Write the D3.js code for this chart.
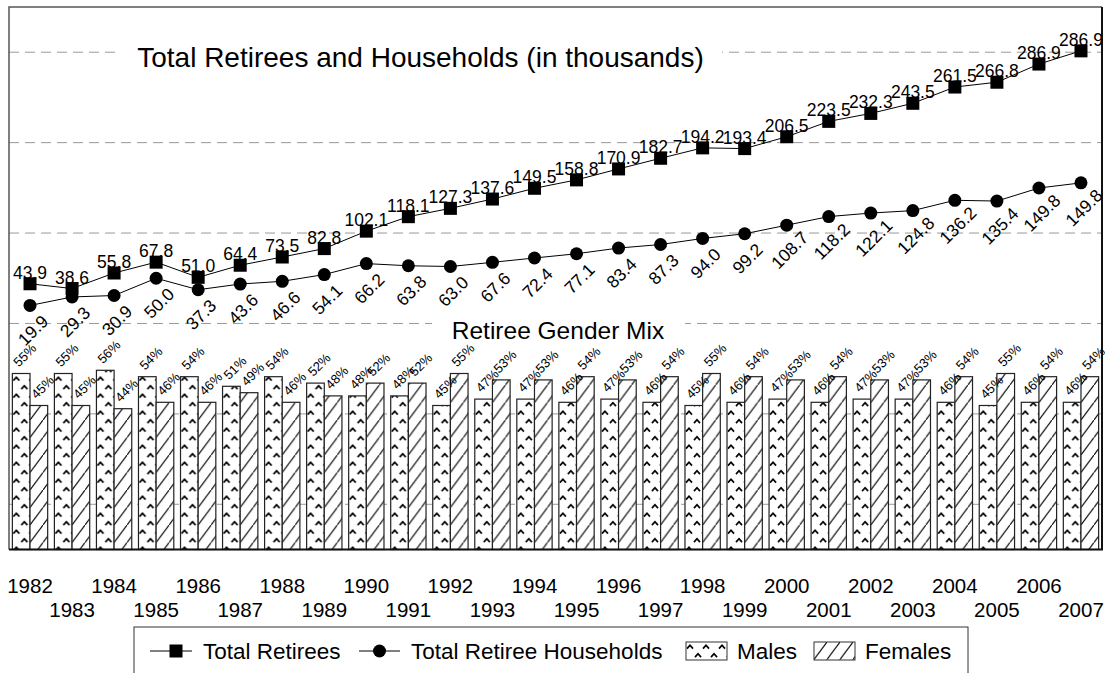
<!DOCTYPE html>
<html>
<head>
<meta charset="utf-8">
<script src="https://cdn.jsdelivr.net/npm/d3@7"></script>
<style>
  body { margin: 0; background: #fff; }
  text { font-family: "Liberation Sans", Arial, sans-serif; }
</style>
</head>
<body>
<div id="chart"></div>
<script>
// categories
const years = ["1982","1983","1984","1985","1986","1987","1988","1989","1990","1991","1992","1993","1994",
               "1995","1996","1997","1998","1999","2000","2001","2002","2003","2004","2005","2006","2007"];

// total retirees (thousands) - plotted value and printed label (2007 label repeats 2006 in the original)
const retirees = [43.9, 38.6, 55.8, 67.8, 51.0, 64.4, 73.5, 82.8, 102.1, 118.1, 127.3, 137.6, 149.5,
                  158.8, 170.9, 182.7, 194.2, 193.4, 206.5, 223.5, 232.3, 243.5, 261.5, 266.8, 286.9, 301.5];
const retireeLabels = ["43.9","38.6","55.8","67.8","51.0","64.4","73.5","82.8","102.1","118.1","127.3","137.6","149.5",
                       "158.8","170.9","182.7","194.2","193.4","206.5","223.5","232.3","243.5","261.5","266.8","286.9","286.9"];

// total retiree households (thousands)
const households = [19.9, 29.3, 30.9, 50.0, 37.3, 43.6, 46.6, 54.1, 66.2, 63.8, 63.0, 67.6, 72.4,
                    77.1, 83.4, 87.3, 94.0, 99.2, 108.7, 118.2, 122.1, 124.8, 136.2, 135.4, 149.8, 155.5];
const householdLabels = ["19.9","29.3","30.9","50.0","37.3","43.6","46.6","54.1","66.2","63.8","63.0","67.6","72.4",
                         "77.1","83.4","87.3","94.0","99.2","108.7","118.2","122.1","124.8","136.2","135.4","149.8","149.8"];

// gender mix (%)
const malePct   = [55, 55, 56, 54, 54, 51, 54, 52, 48, 48, 45, 47, 47, 46, 47, 46, 45, 46, 47, 46, 47, 47, 46, 45, 46, 46];
const femalePct = [45, 45, 44, 46, 46, 49, 46, 48, 52, 52, 55, 53, 53, 54, 53, 54, 55, 54, 53, 54, 53, 53, 54, 55, 54, 54];

const gridValues = [-200, -100, 0, 100, 200, 300];

const width = 1107, height = 673;
const plotLeft = 9, plotRight = 1102, plotTop = 7, plotBottom = 549.5;

const svg = d3.select("#chart").append("svg")
    .attr("width", width)
    .attr("height", height)
    .style("display", "block");

// patterns
const defs = svg.append("defs");
const pm = defs.append("pattern")
    .attr("id", "males")
    .attr("patternUnits", "userSpaceOnUse")
    .attr("width", 16).attr("height", 17);
pm.append("rect").attr("width", 16).attr("height", 17).attr("fill", "#fff");
[[4, 4], [12, 12.5]].forEach(([px, py]) => {
    pm.append("path")
        .attr("d", `M${px - 3},${py + 2.6} L${px},${py - 0.8} L${px + 3},${py + 2.6}`)
        .attr("fill", "none").attr("stroke", "#000").attr("stroke-width", 1.7);
});
const pf = defs.append("pattern")
    .attr("id", "females")
    .attr("patternUnits", "userSpaceOnUse")
    .attr("width", 13).attr("height", 17.5);
pf.append("rect").attr("width", 13).attr("height", 17.5).attr("fill", "#fff");
pf.append("path")
    .attr("d", "M-1,18.85 L14,-1.35")
    .attr("stroke", "#000").attr("stroke-width", 1.1);

// scales
const x = d3.scaleBand().domain(years).range([plotLeft, plotRight]);
const yLine = d3.scaleLinear().domain([-250, 350]).range([plotBottom, plotTop]);
const yBar = d3.scaleLinear().domain([0, 100]).range([plotBottom, 229.5]);
const cx = i => x(years[i]) + x.bandwidth() / 2;
const barW = x.bandwidth() * 0.42;
const barPad = x.bandwidth() * 0.08;

// gridlines
svg.append("g")
  .selectAll("line")
  .data(gridValues)
  .join("line")
    .attr("x1", plotLeft).attr("x2", plotRight)
    .attr("y1", d => yLine(d)).attr("y2", d => yLine(d))
    .attr("stroke", "#999")
    .attr("stroke-width", 1)
    .attr("stroke-dasharray", "10,6");

// panel titles with white boxes
svg.append("rect").attr("x", 119).attr("y", 38).attr("width", 603).attr("height", 38).attr("fill", "#fff");
svg.append("text")
    .attr("x", 420.5).attr("y", 67)
    .attr("text-anchor", "middle")
    .attr("font-size", 28)
    .text("Total Retirees and Households (in thousands)");

svg.append("rect").attr("x", 432).attr("y", 316).attr("width", 253).attr("height", 26).attr("fill", "#fff");
svg.append("text")
    .attr("x", 558).attr("y", 338.5)
    .attr("text-anchor", "middle")
    .attr("font-size", 24.5)
    .text("Retiree Gender Mix");

// bars
const bars = svg.append("g");
years.forEach((yr, i) => {
    const xm = x(yr) + barPad;
    const xf = xm + barW;
    bars.append("g").attr("transform", `translate(${xm},0)`)
      .append("rect")
        .attr("x", 0).attr("y", yBar(malePct[i]))
        .attr("width", barW).attr("height", plotBottom - yBar(malePct[i]))
        .attr("fill", "url(#males)")
        .attr("stroke", "#222").attr("stroke-width", 1.2);
    bars.append("g").attr("transform", `translate(${xf},0)`)
      .append("rect")
        .attr("x", 0).attr("y", yBar(femalePct[i]))
        .attr("width", barW).attr("height", plotBottom - yBar(femalePct[i]))
        .attr("fill", "url(#females)")
        .attr("stroke", "#222").attr("stroke-width", 1.2);
});

// percent labels
const pctLabels = svg.append("g").attr("font-size", 13);
years.forEach((yr, i) => {
    const xm = x(yr) + barPad;
    [[xm, malePct[i]], [xm + barW, femalePct[i]]].forEach(([bx, v]) => {
        const px = bx + 6.5, py = yBar(v) - 6;
        pctLabels.append("text")
            .attr("transform", `translate(${px},${py}) rotate(-45)`)
            .text(v + "%");
    });
});

// frame
svg.append("path")
    .attr("d", `M${plotLeft},${plotBottom} L${plotLeft},${plotTop} L${plotRight},${plotTop}`)
    .attr("fill", "none").attr("stroke", "#555").attr("stroke-width", 1.5);
svg.append("path")
    .attr("d", `M${plotRight},${plotTop} L${plotRight},${plotBottom} L${plotLeft},${plotBottom}`)
    .attr("fill", "none").attr("stroke", "#111").attr("stroke-width", 2);

// lines
const line = d3.line().x((d, i) => cx(i)).y(d => yLine(d));
svg.append("path").datum(households).attr("d", line)
    .attr("fill", "none").attr("stroke", "#000").attr("stroke-width", 1);
svg.append("path").datum(retirees).attr("d", line)
    .attr("fill", "none").attr("stroke", "#000").attr("stroke-width", 1);

svg.append("g").selectAll("circle")
  .data(households)
  .join("circle")
    .attr("cx", (d, i) => cx(i))
    .attr("cy", d => yLine(d))
    .attr("r", 6.5)
    .attr("fill", "#000");

svg.append("g").selectAll("rect")
  .data(retirees)
  .join("rect")
    .attr("x", (d, i) => cx(i) - 6.5)
    .attr("y", d => yLine(d) - 6.5)
    .attr("width", 13).attr("height", 13)
    .attr("fill", "#000");

// value labels
svg.append("g").attr("font-size", 17.5).attr("text-anchor", "middle")
  .selectAll("text")
  .data(retirees)
  .join("text")
    .attr("x", (d, i) => cx(i))
    .attr("y", d => yLine(d) - 5)
    .text((d, i) => retireeLabels[i]);

svg.append("g").attr("font-size", 17.5).attr("text-anchor", "middle")
  .selectAll("text")
  .data(households)
  .join("text")
    .attr("dominant-baseline", "central")
    .attr("transform", (d, i) => `translate(${cx(i) + 3},${yLine(d) + 25}) rotate(-45)`)
    .text((d, i) => householdLabels[i]);

// x axis labels, alternating rows
svg.append("g")
    .call(d3.axisBottom(x).tickSize(0).tickPadding(0))
    .call(g => g.select(".domain").remove())
    .call(g => g.selectAll("text")
        .attr("dy", null)
        .attr("y", (d, i) => i % 2 ? 617 : 593)
        .attr("fill", "#000")
        .attr("font-size", 20.5)
        .attr("font-family", "Liberation Sans, Arial, sans-serif"));

// legend
const lg = svg.append("g").attr("font-size", 22.5);
lg.append("rect").attr("x", 134).attr("y", 627).attr("width", 834).attr("height", 70)
    .attr("fill", "#fff").attr("stroke", "#333").attr("stroke-width", 1);
const ly = 651, lt = 659;
lg.append("line").attr("x1", 150).attr("x2", 192).attr("y1", ly).attr("y2", ly).attr("stroke", "#000");
lg.append("rect").attr("x", 169.5).attr("y", ly - 6.5).attr("width", 13).attr("height", 13).attr("fill", "#000");
lg.append("text").attr("x", 203).attr("y", lt).text("Total Retirees");
lg.append("line").attr("x1", 359).attr("x2", 400).attr("y1", ly).attr("y2", ly).attr("stroke", "#000");
lg.append("circle").attr("cx", 379.5).attr("cy", ly).attr("r", 6.5).attr("fill", "#000");
lg.append("text").attr("x", 411).attr("y", lt).text("Total Retiree Households");
lg.append("g").attr("transform", `translate(686,${ly - 9})`)
  .append("rect").attr("width", 41).attr("height", 18)
    .attr("fill", "url(#males)").attr("stroke", "#333").attr("stroke-width", 1);
lg.append("text").attr("x", 737).attr("y", lt).text("Males");
lg.append("g").attr("transform", `translate(814,${ly - 9})`)
  .append("rect").attr("width", 41).attr("height", 18)
    .attr("fill", "url(#females)").attr("stroke", "#333").attr("stroke-width", 1);
lg.append("text").attr("x", 865).attr("y", lt).text("Females");
</script>
</body>
</html>
